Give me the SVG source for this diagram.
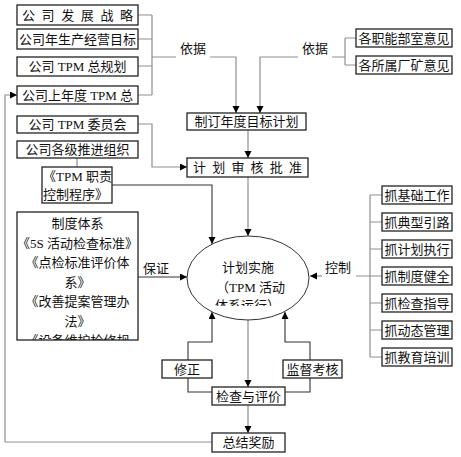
<svg xmlns="http://www.w3.org/2000/svg" width="461" height="457" viewBox="0 0 461 457">
<style>
.b{fill:#fff;stroke:#222;stroke-width:1.3}
.t{font-family:"Liberation Serif","Noto Sans CJK SC",serif;font-size:13px;fill:#111}
.m{text-anchor:middle}
.c{fill:none;stroke:#8f8f8f;stroke-width:1.2}
.d{fill:none;stroke:#333;stroke-width:1.1}
</style>
<defs>
<marker id="a" markerUnits="userSpaceOnUse" markerWidth="8" markerHeight="8" refX="7" refY="3.5" orient="auto">
<path d="M0,0 L7,3.5 L0,7 z" fill="#000"/>
</marker>
<clipPath id="clipSys"><rect x="17" y="212" width="121" height="128"/></clipPath>
<clipPath id="clipEl"><rect x="180" y="230" width="140" height="76"/></clipPath>
</defs>
<rect width="461" height="457" fill="#fff"/>

<g id="connectors">
<path class="c" d="M138,15 H152 M138,39 H152 M138,66 H152 M138,95 H152 M152,15 V95 M152,57 H176 M210,57 H236 V113" marker-end="url(#a)"/>
<path class="c" d="M356,38 H345 M356,65 H345 M345,38 V65 M345,57 H332 M298,57 H260 V113" marker-end="url(#a)"/>
<path class="c" d="M248,130 V158" marker-end="url(#a)"/>
<path class="c" d="M138,124 H152 V167 H187" marker-end="url(#a)"/>
<path class="c" d="M77,158 V167"/>
<path class="d" d="M112,185 H212 V244" marker-end="url(#a)"/>
<path class="c" d="M248,177 V236" marker-end="url(#a)"/>
<path class="d" d="M138,277 H187" marker-end="url(#a)"/>
<path class="c" d="M382,195 H370 M382,222 H370 M382,249 H370 M382,276 H370 M382,303 H370 M382,330 H370 M382,357 H370 M370,195 V357 M370,276 H356"/>
<path class="c" d="M322,276 H310" marker-end="url(#a)"/>
<path class="c" d="M248,320 V387" marker-end="url(#a)"/>
<path class="c" d="M248,405 V433" marker-end="url(#a)"/>
<path class="d" d="M212,392 H188 V378 M188,360 V342 H212 V312" marker-end="url(#a)"/>
<path class="d" d="M285,392 H310 V378 M310,360 V342 H285 V312" marker-end="url(#a)"/>
<path class="c" d="M212,442 H5 V95 H17" marker-end="url(#a)"/>
</g>

<g id="lbl-yiju1"><text class="t m" x="193" y="53">依据</text></g>
<g id="lbl-yiju2"><text class="t m" x="315" y="53">依据</text></g>
<g id="lbl-baozheng"><text class="t m" x="156" y="273">保证</text></g>
<g id="lbl-kongzhi"><text class="t m" x="338" y="272">控制</text></g>

<g id="n-fzzl"><rect class="b" x="17" y="5" width="121" height="20"/><text class="t" x="22" y="20" textLength="111" lengthAdjust="spacing">公司发展战略</text></g>
<g id="n-jymb"><rect class="b" x="17" y="29" width="121" height="20"/><text class="t m" x="77.5" y="44">公司年生产经营目标</text></g>
<g id="n-zgh"><rect class="b" x="17" y="57" width="121" height="19"/><text class="t m" x="77.5" y="71">公司 TPM 总规划</text></g>
<g id="n-snd"><rect class="b" x="17" y="86" width="121" height="18"/><text class="t m" x="77.5" y="100">公司上年度 TPM 总</text></g>

<g id="n-zn"><rect class="b" x="356" y="29" width="96" height="18"/><text class="t m" x="404" y="43">各职能部室意见</text></g>
<g id="n-ck"><rect class="b" x="356" y="56" width="96" height="18"/><text class="t m" x="404" y="70">各所属厂矿意见</text></g>

<g id="n-zd"><rect class="b" x="187" y="113" width="119" height="17"/><text class="t m" x="246.5" y="126">制订年度目标计划</text></g>
<g id="n-sh"><rect class="b" x="187" y="158" width="121" height="19"/><text class="t" x="193" y="172" textLength="109" lengthAdjust="spacing">计划审核批准</text></g>

<g id="n-wyh"><rect class="b" x="17" y="116" width="121" height="17"/><text class="t m" x="77.5" y="129">公司 TPM 委员会</text></g>
<g id="n-tjzz"><rect class="b" x="17" y="141" width="121" height="17"/><text class="t m" x="77.5" y="154">公司各级推进组织</text></g>
<g id="n-zz"><rect class="b" x="42" y="167" width="70" height="36"/><text class="t" x="43" y="181">《TPM 职责</text><text class="t" x="43" y="199">控制程序》</text></g>

<g id="n-zdtx"><rect class="b" x="17" y="212" width="121" height="128"/>
<g clip-path="url(#clipSys)">
<text class="t m" x="77.5" y="228">制度体系</text>
<text class="t m" x="77.5" y="247.5">《5S 活动检查标准》</text>
<text class="t m" x="77.5" y="267">《点检标准评价体</text>
<text class="t m" x="77.5" y="286.5">系》</text>
<text class="t m" x="77.5" y="306">《改善提案管理办</text>
<text class="t m" x="77.5" y="325.5">法》</text>
<text class="t m" x="77.5" y="345">《设备维护检修规</text>
</g></g>

<g id="n-ss"><ellipse cx="248" cy="278" rx="61" ry="42" fill="#fff" stroke="#333" stroke-width="1"/>
<g clip-path="url(#clipEl)">
<text class="t" x="222" y="272">计划实施</text>
<text class="t" x="216" y="292">（TPM 活动</text>
<text class="t" x="215" y="310">体系运行）</text>
</g></g>

<g id="n-r1"><rect class="b" x="382" y="186" width="70" height="18"/><text class="t m" x="417" y="200">抓基础工作</text></g>
<g id="n-r2"><rect class="b" x="382" y="213" width="70" height="18"/><text class="t m" x="417" y="227">抓典型引路</text></g>
<g id="n-r3"><rect class="b" x="382" y="240" width="70" height="18"/><text class="t m" x="417" y="254">抓计划执行</text></g>
<g id="n-r4"><rect class="b" x="382" y="267" width="70" height="18"/><text class="t m" x="417" y="281">抓制度健全</text></g>
<g id="n-r5"><rect class="b" x="382" y="294" width="70" height="18"/><text class="t m" x="417" y="308">抓检查指导</text></g>
<g id="n-r6"><rect class="b" x="382" y="321" width="70" height="18"/><text class="t m" x="417" y="335">抓动态管理</text></g>
<g id="n-r7"><rect class="b" x="382" y="348" width="70" height="18"/><text class="t m" x="417" y="362">抓教育培训</text></g>

<g id="n-xz"><rect class="b" x="162" y="360" width="50" height="18"/><text class="t m" x="187" y="374">修正</text></g>
<g id="n-jd"><rect class="b" x="283" y="360" width="59" height="18"/><text class="t m" x="312.5" y="374">监督考核</text></g>
<g id="n-jc"><rect class="b" x="212" y="387" width="73" height="18"/><text class="t m" x="248.5" y="401">检查与评价</text></g>
<g id="n-zj"><rect class="b" x="212" y="433" width="73" height="19"/><text class="t m" x="248.5" y="447">总结奖励</text></g>
</svg>
